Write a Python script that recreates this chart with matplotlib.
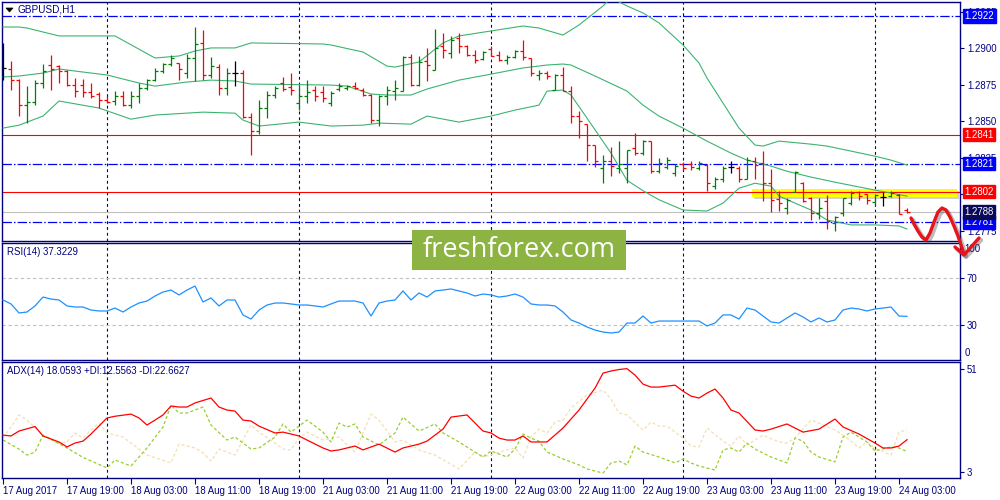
import matplotlib
matplotlib.use("Agg")
import matplotlib.pyplot as plt
from matplotlib.lines import Line2D
from matplotlib.patches import Rectangle, Polygon
from matplotlib.transforms import Affine2D
import numpy as np

plt.rcParams['font.family'] = ['Liberation Sans', 'DejaVu Sans']

# ---------------- data ----------------
symbol_title = "GBPUSD,H1"
rsi_title = "RSI(14) 37.3229"
adx_title = "ADX(14) 18.0593 +DI:12.5563 -DI:22.6627"

open_ = [1.28865, 1.28858, 1.28782, 1.28611, 1.28632, 1.28762, 1.28885, 1.28878, 1.28844, 1.28748,
         1.28748, 1.28700, 1.28687, 1.28646, 1.28639, 1.28673, 1.28611, 1.28673, 1.28728, 1.28782,
         1.28844, 1.28892, 1.28899, 1.28830, 1.28933, 1.29036, 1.28817, 1.28871, 1.28728, 1.28830,
         1.28830, 1.28529, 1.28433, 1.28591, 1.28680, 1.28762, 1.28735, 1.28625, 1.28673, 1.28714,
         1.28700, 1.28625, 1.28721, 1.28728, 1.28741, 1.28714, 1.28680, 1.28509, 1.28673, 1.28707,
         1.28707, 1.28940, 1.28748, 1.28912, 1.28851, 1.29015, 1.28967, 1.29070, 1.29015, 1.28954,
         1.28926, 1.28995, 1.28954, 1.28919, 1.28940, 1.28981, 1.28933, 1.28817, 1.28830, 1.28714,
         1.28817, 1.28707, 1.28536, 1.28481, 1.28338, 1.28180, 1.28228, 1.28180, 1.28180, 1.28317,
         1.28283, 1.28365, 1.28159, 1.28187, 1.28146, 1.28207, 1.28207, 1.28180, 1.28201, 1.28057,
         1.28105, 1.28187, 1.28180, 1.28105, 1.28228, 1.28214, 1.28077, 1.27968, 1.27906, 1.28016,
         1.28077, 1.27975, 1.27872, 1.27954, 1.27804, 1.27872, 1.27940, 1.28016, 1.28002, 1.27947,
         1.27981, 1.27988, 1.27995, 1.27895]
high = [1.29036, 1.28912, 1.28789, 1.28741, 1.28782, 1.28892, 1.28954, 1.28885, 1.28851, 1.28796,
        1.28789, 1.28762, 1.28700, 1.28673, 1.28707, 1.28707, 1.28707, 1.28762, 1.28789, 1.28865,
        1.28899, 1.28954, 1.28899, 1.28960, 1.29145, 1.29125, 1.28940, 1.28892, 1.28865, 1.28912,
        1.28851, 1.28557, 1.28646, 1.28707, 1.28741, 1.28803, 1.28830, 1.28748, 1.28782, 1.28741,
        1.28741, 1.28707, 1.28762, 1.28748, 1.28769, 1.28728, 1.28687, 1.28680, 1.28741, 1.28782,
        1.28947, 1.28960, 1.28947, 1.29002, 1.29132, 1.29104, 1.29084, 1.29104, 1.29022, 1.28988,
        1.28981, 1.29015, 1.28981, 1.28954, 1.28988, 1.29056, 1.28933, 1.28851, 1.28844, 1.28823,
        1.28871, 1.28741, 1.28570, 1.28481, 1.28338, 1.28269, 1.28324, 1.28365, 1.28303, 1.28420,
        1.28372, 1.28365, 1.28249, 1.28255, 1.28207, 1.28221, 1.28228, 1.28228, 1.28207, 1.28119,
        1.28194, 1.28228, 1.28194, 1.28255, 1.28255, 1.28296, 1.28173, 1.28023, 1.27975, 1.28159,
        1.28084, 1.27981, 1.27975, 1.27995, 1.27852, 1.27975, 1.28023, 1.28023, 1.28002, 1.28002,
        1.28016, 1.28023, 1.28002, 1.27905]
low = [1.28782, 1.28714, 1.28536, 1.28488, 1.28611, 1.28728, 1.28714, 1.28762, 1.28741, 1.28666,
       1.28666, 1.28659, 1.28591, 1.28625, 1.28611, 1.28604, 1.28591, 1.28625, 1.28714, 1.28776,
       1.28830, 1.28878, 1.28782, 1.28796, 1.28776, 1.28782, 1.28796, 1.28680, 1.28680, 1.28741,
       1.28522, 1.28269, 1.28413, 1.28522, 1.28659, 1.28707, 1.28680, 1.28577, 1.28625, 1.28639,
       1.28632, 1.28604, 1.28707, 1.28714, 1.28721, 1.28673, 1.28488, 1.28468, 1.28611, 1.28646,
       1.28707, 1.28741, 1.28741, 1.28776, 1.28851, 1.28933, 1.28933, 1.28967, 1.28947, 1.28899,
       1.28919, 1.28947, 1.28912, 1.28892, 1.28933, 1.28919, 1.28810, 1.28782, 1.28789, 1.28714,
       1.28707, 1.28488, 1.28385, 1.28228, 1.28187, 1.28077, 1.28125, 1.28146, 1.28077, 1.28269,
       1.28269, 1.28146, 1.28146, 1.28173, 1.28125, 1.28166, 1.28166, 1.28166, 1.28023, 1.28036,
       1.28084, 1.28146, 1.28084, 1.28105, 1.28105, 1.27954, 1.27879, 1.27886, 1.27865, 1.28016,
       1.27947, 1.27824, 1.27831, 1.27763, 1.27749, 1.27852, 1.27927, 1.27961, 1.27934, 1.27927,
       1.27920, 1.27981, 1.27865, 1.27872]
close = [1.28865, 1.28782, 1.28611, 1.28632, 1.28762, 1.28844, 1.28858, 1.28844, 1.28748, 1.28707,
         1.28700, 1.28673, 1.28646, 1.28632, 1.28673, 1.28611, 1.28673, 1.28728, 1.28782, 1.28844,
         1.28892, 1.28933, 1.28858, 1.28933, 1.29029, 1.28817, 1.28878, 1.28728, 1.28830, 1.28830,
         1.28529, 1.28433, 1.28591, 1.28680, 1.28728, 1.28721, 1.28714, 1.28673, 1.28700, 1.28673,
         1.28659, 1.28694, 1.28741, 1.28741, 1.28728, 1.28680, 1.28509, 1.28673, 1.28714, 1.28728,
         1.28940, 1.28748, 1.28906, 1.28885, 1.29002, 1.28988, 1.29056, 1.29015, 1.28954, 1.28919,
         1.28974, 1.28947, 1.28919, 1.28940, 1.28981, 1.28940, 1.28830, 1.28830, 1.28810, 1.28817,
         1.28707, 1.28536, 1.28502, 1.28338, 1.28228, 1.28228, 1.28194, 1.28207, 1.28303, 1.28283,
         1.28365, 1.28159, 1.28214, 1.28235, 1.28194, 1.28180, 1.28187, 1.28214, 1.28077, 1.28105,
         1.28180, 1.28187, 1.28105, 1.28235, 1.28201, 1.28077, 1.27961, 1.27940, 1.27961, 1.28153,
         1.27954, 1.27872, 1.27906, 1.27817, 1.27845, 1.27975, 1.28009, 1.27988, 1.27961, 1.27995,
         1.27981, 1.28009, 1.27865, 1.27880]

# Bollinger band vertices (bar index, price)
bb_up_idx = [0, 2, 3, 7, 14, 19, 22, 24, 26, 29, 31, 40, 41, 45, 48, 49, 52, 55, 57, 61, 65, 67, 70,
             72, 75, 76, 78, 80, 82, 85, 87, 88, 90, 92, 94, 95, 97, 101, 103, 109, 111, 113]
bb_up = [1.29145, 1.29145, 1.29138, 1.29084, 1.29084, 1.28933, 1.28947, 1.28981, 1.29002, 1.29002,
         1.29036, 1.29029, 1.29022, 1.28974, 1.28878, 1.28871, 1.28906, 1.29036, 1.29084, 1.29118,
         1.29152, 1.29138, 1.29090, 1.29159, 1.29289, 1.29344, 1.29289, 1.29241, 1.29173, 1.29022,
         1.28899, 1.28796, 1.28625, 1.28454, 1.28338, 1.28331, 1.28365, 1.28344, 1.28331, 1.28262,
         1.28235, 1.28201]
bb_mid_idx = [0, 2, 5, 7, 9, 13, 17, 19, 23, 26, 29, 31, 41, 43, 46, 48, 51, 53, 57, 61, 65, 68, 70,
              71, 74, 78, 80, 82, 85, 88, 91, 93, 96, 98, 101, 104, 109, 113]
bb_mid = [1.28803, 1.28810, 1.28830, 1.28858, 1.28844, 1.28817, 1.28762, 1.28741, 1.28769, 1.28782,
          1.28776, 1.28755, 1.28748, 1.28741, 1.28687, 1.28680, 1.28680, 1.28721, 1.28782, 1.28823,
          1.28865, 1.28885, 1.28892, 1.28885, 1.28810, 1.28707, 1.28611, 1.28536, 1.28454, 1.28365,
          1.28283, 1.28235, 1.28194, 1.28159, 1.28119, 1.28084, 1.28030, 1.27989]
bb_low_idx = [0, 2, 5, 7, 12, 16, 19, 25, 29, 30, 32, 37, 41, 45, 47, 51, 53, 57, 61, 64, 67, 68, 70,
              71, 73, 76, 78, 80, 82, 85, 88, 90, 92, 94, 96, 97, 99, 101, 103, 106, 109, 112, 113]
bb_low = [1.28454, 1.28474, 1.28536, 1.28639, 1.28591, 1.28515, 1.28543, 1.28563, 1.28556, 1.28509,
          1.28468, 1.28495, 1.28468, 1.28474, 1.28488, 1.28481, 1.28536, 1.28495, 1.28536, 1.28577,
          1.28611, 1.28707, 1.28714, 1.28680, 1.28522, 1.28283, 1.28097, 1.28026, 1.27964, 1.27894,
          1.27887, 1.27941, 1.28043, 1.28077, 1.28057, 1.27989, 1.27941, 1.27894, 1.27826, 1.27792,
          1.27792, 1.27785, 1.27764]

level_prices = [1.2922, 1.2841, 1.2821, 1.2802, 1.2781]
level_kinds = ['dashdot', 'solid', 'dashdot', 'solid', 'dashdot']
price_ticks = [1.2775, 1.2800, 1.2825, 1.2850, 1.2875, 1.2900, 1.2925]

rsi = [51.3, 47.9, 40.2, 41.0, 46.2, 53.8, 52.1, 51.3, 46.2, 45.3,
       45.3, 42.7, 41.9, 41.9, 44.4, 41.0, 45.3, 48.7, 50.4, 54.7,
       58.1, 59.8, 55.6, 59.8, 63.2, 49.6, 53.0, 46.2, 51.3, 51.3,
       38.5, 35.0, 42.7, 47.0, 48.7, 48.7, 47.9, 47.0, 47.0, 46.2,
       45.3, 47.9, 50.4, 50.4, 50.4, 48.7, 37.6, 48.7, 50.4, 51.3,
       59.0, 51.3, 57.3, 53.8, 59.0, 59.8, 60.7, 59.0, 57.3, 54.7,
       56.4, 55.6, 53.8, 54.7, 56.4, 53.8, 47.9, 47.0, 47.0, 46.2,
       41.0, 34.2, 31.6, 28.2, 25.6, 23.9, 23.1, 23.9, 31.6, 31.6,
       37.6, 31.6, 33.3, 33.3, 33.3, 33.3, 33.3, 33.3, 29.1, 31.6,
       38.5, 38.5, 35.0, 44.4, 42.7, 37.6, 32.5, 31.6, 35.9, 40.2,
       36.8, 32.5, 35.9, 32.5, 34.2, 42.7, 44.4, 43.6, 41.9, 43.6,
       44.4, 45.3, 37.6, 37.32]

adx_idx = [0, 1, 2, 4, 5, 7, 8, 9, 10, 11, 13, 14, 16, 17, 18, 19, 20, 21, 22, 23, 24, 26, 27, 28, 29,
           30, 31, 32, 34, 35, 36, 37, 38, 40, 41, 42, 44, 45, 47, 49, 50, 52, 53, 55, 56, 58, 60, 61,
           62, 63, 64, 65, 66, 68, 70, 72, 74, 75, 76, 77, 78, 79, 80, 81, 82, 84, 85, 86, 87, 88, 89,
           90, 91, 92, 94, 95, 96, 98, 100, 102, 104, 105, 107, 109, 110, 111, 112, 113]
adx = [20.2, 19.8, 22.1, 24.2, 19.8, 17.0, 14.7, 16.5, 17.4, 20.7, 28.2, 29.0, 30.0, 28.2, 24.9, 27.2,
       29.6, 33.8, 33.3, 33.3, 35.2, 37.5, 33.3, 31.9, 31.4, 27.2, 26.8, 24.4, 21.2, 21.6, 20.7, 19.8,
       17.9, 14.2, 12.8, 13.3, 15.1, 13.3, 16.0, 12.3, 14.2, 16.0, 17.4, 23.0, 28.6, 29.6, 22.1, 21.2,
       18.8, 17.9, 17.9, 19.8, 17.0, 17.0, 23.5, 31.9, 42.1, 49.1, 50.1, 50.8, 51.2, 48.2, 44.0, 42.6,
       42.6, 43.5, 40.7, 38.4, 37.5, 39.8, 41.7, 37.5, 31.9, 30.5, 22.6, 22.1, 23.0, 25.4, 21.6, 23.0,
       27.7, 24.0, 20.7, 16.5, 14.2, 14.2, 15.1, 18.06]
pdi_idx = [0, 2, 3, 4, 5, 8, 10, 13, 14, 16, 18, 20, 21, 22, 23, 25, 26, 28, 29, 31, 32, 34, 35, 36,
           38, 40, 41, 42, 43, 44, 45, 47, 49, 50, 52, 54, 55, 57, 59, 60, 61, 62, 63, 64, 65, 66, 67,
           68, 70, 72, 73, 75, 76, 77, 78, 79, 80, 82, 84, 85, 86, 87, 89, 90, 91, 92, 93, 94, 96, 98,
           99, 100, 101, 102, 104, 105, 106, 108, 109, 111, 112, 113]
pdi = [17.9, 13.7, 10.9, 12.3, 20.2, 14.2, 9.8, 4.9, 8.6, 5.8, 14.2, 24.0, 34.2, 30.5, 30.5, 33.3,
       24.9, 17.9, 19.3, 13.7, 14.2, 19.3, 25.4, 21.6, 27.2, 21.6, 17.0, 25.8, 24.0, 25.4, 19.3, 15.6,
       21.2, 28.6, 22.1, 25.4, 21.2, 17.0, 12.3, 10.0, 12.8, 11.4, 10.0, 13.7, 20.7, 18.8, 17.4, 12.3,
       9.1, 6.3, 4.4, 2.5, 7.2, 8.1, 6.3, 15.1, 12.3, 10.0, 7.2, 9.1, 7.2, 5.8, 3.9, 13.3, 14.2, 12.3,
       16.5, 13.7, 10.0, 7.2, 18.8, 17.4, 12.3, 10.0, 7.7, 19.3, 21.6, 17.0, 12.8, 14.7, 14.2, 12.56]
mdi_idx = [0, 1, 2, 3, 5, 7, 8, 9, 10, 11, 12, 13, 15, 16, 18, 21, 22, 24, 25, 26, 27, 29, 31, 32, 34,
           35, 36, 37, 38, 40, 42, 43, 44, 46, 47, 49, 50, 52, 54, 57, 59, 60, 62, 63, 64, 65, 66, 67,
           68, 69, 70, 71, 73, 75, 76, 77, 78, 80, 81, 82, 83, 85, 86, 87, 88, 90, 91, 92, 93, 95, 97,
           98, 99, 101, 102, 104, 105, 106, 107, 108, 109, 111, 112, 113]
mdi = [18.8, 24.0, 29.6, 27.2, 20.2, 16.5, 17.0, 21.2, 18.8, 22.6, 25.8, 21.2, 19.3, 16.5, 10.9, 7.2,
       16.0, 14.2, 11.9, 8.1, 13.7, 10.9, 24.9, 21.6, 16.5, 13.7, 13.3, 18.8, 21.6, 17.9, 19.3, 15.6,
       12.3, 30.0, 27.2, 17.0, 17.9, 13.3, 10.9, 4.4, 12.3, 10.0, 12.3, 13.3, 14.2, 9.5, 19.3, 23.0,
       21.2, 26.3, 27.2, 32.8, 38.9, 41.2, 37.0, 30.5, 29.6, 22.6, 26.3, 24.4, 24.4, 18.8, 15.1, 14.7,
       23.5, 17.4, 15.1, 19.8, 15.6, 20.2, 17.0, 16.5, 18.8, 27.2, 25.8, 22.6, 20.2, 17.4, 14.2, 17.0,
       14.2, 10.9, 21.6, 22.66]

time_tick_idx = [0, 8, 16, 24, 32, 40, 48, 56, 64, 72, 80, 88, 96, 104, 112]
time_tick_labels = ["17 Aug 2017", "17 Aug 19:00", "18 Aug 03:00", "18 Aug 11:00", "18 Aug 19:00",
                    "21 Aug 03:00", "21 Aug 11:00", "21 Aug 19:00", "22 Aug 03:00", "22 Aug 11:00",
                    "22 Aug 19:00", "23 Aug 03:00", "23 Aug 11:00", "23 Aug 19:00", "24 Aug 03:00"]
day_separators = [13, 37, 61, 85, 109]

# ---------------- styling ----------------
W, H = 1000, 500
NAVY = '#000080'
FS = 6.9
LW = 0.8
fig = plt.figure(figsize=(W / 100, H / 100), dpi=100)
fig.patch.set_facecolor('white')
pxT = Affine2D().scale(1.0 / W, -1.0 / H).translate(0, 1) + fig.transFigure


def px_rect(x0, y0, x1, y1):
    return [x0 / W, 1 - y1 / H, (x1 - x0) / W, (y1 - y0) / H]


ax = fig.add_axes(px_rect(2, 2, 960, 241))
ax_rsi = fig.add_axes(px_rect(2, 243, 960, 360))
ax_adx = fig.add_axes(px_rect(2, 362, 960, 478))

n = len(close)
idx = np.arange(n)
xlim = (-0.125, 119.625)

for a in (ax, ax_rsi, ax_adx):
    a.set_xlim(*xlim)
    a.set_facecolor('white')
    for s in a.spines.values():
        s.set_color(NAVY)
        s.set_linewidth(1.0)
    a.yaxis.tick_right()
    a.tick_params(axis='y', colors=NAVY, labelsize=FS, length=3, width=0.8, pad=2,
                  labelcolor=NAVY, direction='out')
    a.tick_params(axis='x', length=0, labelbottom=False)
    for s in day_separators:
        a.axvline(s, color=NAVY, lw=0.8, dashes=(2.6, 2.6), zorder=1)

# ---------- main price panel ----------
ax.set_ylim(1.27682, 1.29316)
ax.set_yticks(price_ticks)
ax.set_yticklabels([f"{p:.4f}" for p in price_ticks])

# yellow highlight (drawn object) with soft shadow
ax.add_patch(Rectangle((754, 191), 205, 8, transform=pxT, fc='#808080', ec='none', alpha=0.35, zorder=1.5))
ax.add_patch(Rectangle((752, 189), 205, 8, transform=pxT, fc='#FFFF00', ec='none', zorder=1.6))

for p, kind in zip(level_prices, level_kinds):
    if kind == 'solid':
        ax.axhline(p, color='#FF0000', lw=LW, zorder=2)
    else:
        ax.axhline(p, color='#0000FF', lw=0.9, dashes=(7.5, 1.7, 1.2, 1.7), zorder=2)
ax.axhline(close[-1], color='#C0C0C0', lw=LW, zorder=1.8)

band_c = '#3CB371'
ax.plot(bb_up_idx, bb_up, color=band_c, lw=LW, zorder=3)
ax.plot(bb_mid_idx, bb_mid, color=band_c, lw=LW, zorder=3)
ax.plot(bb_low_idx, bb_low, color=band_c, lw=LW, zorder=3)

cols = ['#008000' if c > o else ('#FF0000' if c < o else '#000000') for o, c in zip(open_, close)]
ax.vlines(idx, low, high, colors=cols, lw=0.9, zorder=4)
ax.hlines(open_, idx - 0.4, idx, colors=cols, lw=0.9, zorder=4)
ax.hlines(close, idx, idx + 0.4, colors=cols, lw=0.9, zorder=4)

# price label boxes on the scale
box_colors = ['#0000FF', '#FF0000', '#0000FF', '#FF0000', '#0000FF']
ytr = ax.get_yaxis_transform()
for p, bc in zip(level_prices, box_colors):
    ax.text(1.0045, p, f"{p:.4f}", transform=ytr, ha='left', va='center', fontsize=FS, color='white',
            bbox=dict(boxstyle='square,pad=0.18', fc=bc, ec=bc), zorder=10, clip_on=False)
ax.text(1.0045, 1.2788, "1.2788", transform=ytr, ha='left', va='center', fontsize=FS, color='white',
        bbox=dict(boxstyle='square,pad=0.18', fc='#0A0A5A', ec='#0A0A5A'), zorder=10, clip_on=False)

# title
fig.text(18 / W, 1 - 10 / H, symbol_title, fontsize=FS + 0.3, color=NAVY, va='center', ha='left')
fig.add_artist(Polygon([(6, 8), (13, 8), (9.5, 12)], closed=True, transform=pxT, fc='black', ec='black', lw=0.5))

# ---------- RSI panel ----------
ax_rsi.set_ylim(0, 100)
ax_rsi.set_yticks([30, 70])
ax_rsi.set_yticklabels(['30', '70'])
ax_rsi.axhline(70, color='#C0C0C0', lw=LW, dashes=(3, 2.5), zorder=1)
ax_rsi.axhline(30, color='#C0C0C0', lw=LW, dashes=(3, 2.5), zorder=1)
ax_rsi.plot(idx, rsi, color='#1E90FF', lw=0.9, zorder=3)
rtr = ax_rsi.get_yaxis_transform()
ax_rsi.text(1.0045, 95, "100", transform=rtr, ha='left', va='center', fontsize=FS, color=NAVY, clip_on=False)
ax_rsi.text(1.0045, 6, "0", transform=rtr, ha='left', va='center', fontsize=FS, color=NAVY, clip_on=False)
fig.text(7 / W, 1 - 252 / H, rsi_title, fontsize=FS, color=NAVY, va='center', ha='left')

# ---------- ADX panel ----------
ax_adx.set_ylim(0.2, 54.3)
ax_adx.set_yticks([3, 51])
ax_adx.set_yticklabels(['3', '51'])
ax_adx.plot(mdi_idx, mdi, color='#F5DEB3', lw=0.9, dashes=(2.5, 1.8), zorder=2)
ax_adx.plot(pdi_idx, pdi, color='#9ACD32', lw=0.9, dashes=(2.5, 1.8), zorder=2.5)
ax_adx.plot(adx_idx, adx, color='#FF0000', lw=0.9, zorder=3)
fig.text(7 / W, 1 - 371 / H, adx_title, fontsize=FS, color=NAVY, va='center', ha='left')

ax_adx.set_xticks(time_tick_idx)
ax_adx.set_xticklabels(time_tick_labels)
ax_adx.tick_params(axis='x', length=4, width=0.8, colors=NAVY, labelcolor=NAVY, labelsize=FS,
                   pad=1.5, labelbottom=True, direction='out')
for lab in ax_adx.get_xticklabels():
    lab.set_ha('left')

# ---------- watermark ----------
fig.add_artist(Rectangle((412, 230), 214, 40, transform=pxT, fc='#8DB443', ec='none', zorder=20))
fig.text(519 / W, 1 - 250 / H, "freshforex.com", fontsize=19.5, color='white', ha='center', va='center',
         family=['Open Sans', 'DejaVu Sans'], zorder=21)

# ---------- hand-drawn arrow ----------
arrow_x = [911, 914, 918, 922, 926, 930, 934, 938, 942, 946, 950, 954, 958, 961, 964]
arrow_y = [218, 224, 231, 237, 240, 233, 222, 212, 208, 210, 217, 226, 236, 245, 254]
head_x = [955, 964, 979]
head_y = [247, 255, 238]
for dx, c, a_, lw in ((2, '#404040', 0.35, 3.2), (0, '#E8141B', 1.0, 2.4)):
    fig.add_artist(Line2D(np.array(arrow_x) + dx, np.array(arrow_y) + dx, transform=pxT, color=c,
                          alpha=a_, lw=lw, solid_capstyle='round', solid_joinstyle='round', zorder=25))
    fig.add_artist(Line2D(np.array(head_x) + dx, np.array(head_y) + dx, transform=pxT, color=c,
                          alpha=a_, lw=lw, solid_capstyle='round', solid_joinstyle='round', zorder=25))

fig.savefig('out.png', dpi=100, facecolor='white')
